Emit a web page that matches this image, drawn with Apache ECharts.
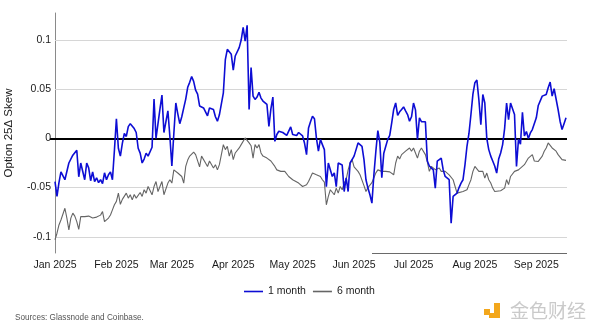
<!DOCTYPE html>
<html>
<head>
<meta charset="utf-8">
<script src="https://cdn.jsdelivr.net/npm/echarts@6/dist/echarts.min.js"></script>
<style>html,body{margin:0;padding:0;background:#fff}#chart{width:600px;height:333px}</style>
</head>
<body>
<div id="chart"></div>
<script>
// ---------------- data ----------------
const startDate = '2025-01-01';
const seriesNames = ['1 month', '6 month'];
const yAxisTitle = 'Option 25\u0394 Skew';
const sourceNote = 'Sources: Glassnode and Coinbase.';
const watermarkText = '金色财经';

const monthTickDates = ['2025-01-01','2025-02-01','2025-03-01','2025-04-01','2025-05-01','2025-06-01','2025-07-01','2025-08-01','2025-09-01'];
const monthTickLabels = ['Jan 2025','Feb 2025','Mar 2025','Apr 2025','May 2025','Jun 2025','Jul 2025','Aug 2025','Sep 2025'];
const yTickValues = [-0.1, -0.05, 0, 0.05, 0.1];
const yTickLabels = ['-0.1', '-0.05', '0', '0.05', '0.1'];

// 1 month skew, daily from 2025-01-01
const oneMonthValues = [
  -0.044,-0.059,-0.045,-0.034,-0.034,-0.042,-0.044,-0.025,-0.024,-0.017,
  -0.016,-0.012,-0.039,-0.025,-0.025,-0.042,-0.025,-0.030,-0.043,-0.034,
  -0.044,-0.040,-0.045,-0.042,-0.046,-0.035,-0.042,-0.037,-0.034,-0.042,
  -0.012,0.020,-0.010,-0.018,-0.005,0.005,0.002,0.012,0.015,0.013,
  0.010,0.006,-0.010,-0.015,-0.025,-0.021,-0.015,-0.018,-0.016,-0.009,
  0.040,0.000,0.015,0.030,0.044,0.006,0.008,0.028,0.002,-0.028,
  0.005,0.036,0.025,0.015,0.022,0.031,0.040,0.052,0.057,0.063,
  0.058,0.049,0.045,0.033,0.035,0.031,0.030,0.023,0.031,0.030,
  0.0294,0.022,0.0175,0.024,0.022,0.0464,0.080,0.0906,0.089,0.0855,
  0.0695,0.0838,0.082,0.0923,0.100,0.1128,0.099,0.115,0.0294,0.072,
  0.043,0.0396,0.042,0.047,0.041,0.038,0.036,0.0345,0.0123,0.030,
  0.042,-0.003,0.004,0.0073,0.009,0.006,0.004,0.003,0.0025,0.0117,
  0.004,0.004,0.003,0.006,0.0073,0.0025,-0.005,-0.0165,0.0107,0.017,
  0.0226,0.020,0.000,-0.013,-0.001,-0.0063,-0.0114,-0.049,-0.025,-0.025,
  -0.0387,-0.035,-0.049,-0.025,-0.025,-0.027,-0.054,-0.040,-0.054,-0.025,
  -0.023,-0.018,-0.0114,-0.0046,-0.006,-0.008,-0.0216,-0.042,-0.0505,-0.0573,
  -0.0658,-0.037,-0.013,0.008,-0.004,-0.040,-0.015,-0.008,-0.001,0.003,
  0.0158,0.0294,0.036,0.0233,0.027,0.0294,0.032,0.028,0.0243,0.0175,
  0.022,0.036,0.029,-0.001,0.021,0.017,0.019,0.017,-0.023,-0.028,
  -0.030,-0.032,-0.0505,-0.023,-0.025,-0.020,-0.032,-0.0387,-0.037,-0.042,
  -0.0862,-0.059,-0.059,-0.0556,-0.050,-0.0454,-0.042,-0.0267,-0.008,0.005,
  0.0243,0.045,0.0566,0.0593,0.0396,0.014,0.0447,0.036,0.000,-0.0114,
  -0.018,-0.023,-0.028,-0.0352,-0.021,-0.0148,-0.0063,0.010,0.036,0.019,
  0.036,0.035,0.0243,-0.0285,-0.001,-0.006,0.0266,0.0025,0.007,0.000,
  0.0056,0.009,0.009,0.021,0.0335,0.0335,0.043,0.0413,0.0447,0.0515,
  0.0573,0.043,0.0505,0.0498,0.0294,0.0175,0.009,0.015,0.021
];

// 6 month skew: day offsets from startDate and values read at those days
const sixMonthDays = [
  0,1,2,3,4,5,6,7,8,9,
  10,11,12,13,14,15,16,17,18,19,
  21,22,23,24,25,27,28,29,30,31,
  32,33,34,36,37,38,39,40,41,42,
  43,44,45,46,47,49,50,51,52,53,
  54,55,56,57,58,59,60,61,62,63,
  64,65,66,67,68,69,70,71,72,73,
  74,75,76,77,78,79,80,81,82,83,
  84,85,86,87,88,89,90,91,92,93,
  94,95,96,97,98,99,100,101,102,103,
  104,105,106,107,109,110,111,112,113,114,
  115,116,118,119,120,121,123,124,125,126,
  127,128,130,131,132,134,135,136,137,138,
  139,141,142,143,144,145,146,147,148,149,
  150,151,152,153,154,155,156,157,158,159,
  160,161,162,163,165,166,167,169,170,171,
  172,173,174,175,176,177,178,179,180,181,
  182,183,184,185,186,187,188,189,190,191,
  192,193,194,195,196,197,198,199,201,202,
  203,204,206,207,208,209,210,211,212,214,
  215,216,217,218,219,220,221,222,223,225,
  226,227,228,229,230,232,233,234,235,237,
  238,239,240,241,242,244,245,246,247,248,
  249,250,251,252,253,254,256,257,258
];
const sixMonthValues = [
  -0.103,-0.0964,-0.088,-0.083,-0.081,-0.071,-0.081,-0.093,-0.081,-0.076,
  -0.079,-0.0846,-0.0924,-0.0795,-0.081,-0.0795,-0.081,-0.079,-0.080,-0.081,
  -0.080,-0.0788,-0.078,-0.0744,-0.0846,-0.081,-0.0778,-0.0727,-0.0675,-0.064,
  -0.0556,-0.067,-0.062,-0.0556,-0.0607,-0.0573,-0.0625,-0.057,-0.0607,-0.059,
  -0.055,-0.059,-0.0522,-0.0556,-0.0489,-0.0573,-0.0489,-0.0438,-0.054,-0.0489,
  -0.0438,-0.0573,-0.056,-0.0454,-0.042,-0.0454,-0.032,-0.0335,-0.0352,-0.037,
  -0.0387,-0.0454,-0.0285,-0.022,-0.018,-0.0165,-0.014,-0.0165,-0.018,-0.029,
  -0.018,-0.020,-0.025,-0.0285,-0.023,-0.025,-0.030,-0.0267,-0.032,-0.0267,
  -0.025,-0.0063,-0.0114,-0.008,-0.018,-0.0114,-0.0216,-0.0148,-0.013,-0.0097,
  -0.0063,-0.0046,0.0005,-0.0012,-0.0046,-0.0075,-0.020,-0.0063,-0.0097,-0.0063,
  -0.0148,-0.018,-0.0165,-0.020,-0.023,-0.025,-0.0285,-0.032,-0.0305,-0.0335,
  -0.0352,-0.0335,-0.0387,-0.040,-0.042,-0.0438,-0.0454,-0.047,-0.0489,-0.0505,
  -0.0472,-0.0438,-0.0352,-0.0335,-0.037,-0.0387,-0.042,-0.0445,-0.0675,-0.059,
  -0.0522,-0.0573,-0.0505,-0.0556,-0.0489,-0.0522,-0.0454,-0.042,-0.032,-0.025,
  -0.0216,-0.029,-0.0305,-0.0335,-0.037,-0.0387,-0.048,-0.054,-0.050,-0.0489,
  -0.045,-0.040,-0.035,-0.032,-0.0335,-0.0352,-0.0335,-0.034,-0.0335,-0.037,
  -0.025,-0.018,-0.021,-0.0165,-0.018,-0.013,-0.0114,-0.0097,-0.013,-0.0097,
  -0.0148,-0.020,-0.013,-0.0097,-0.0114,-0.0165,-0.024,-0.0335,-0.0285,-0.0267,
  -0.0318,-0.0335,-0.030,-0.0335,-0.0352,-0.0335,-0.0318,-0.037,-0.042,-0.0489,
  -0.0556,-0.0573,-0.054,-0.0556,-0.0522,-0.047,-0.042,-0.0335,-0.0285,-0.0335,
  -0.0352,-0.0335,-0.0403,-0.0352,-0.042,-0.0454,-0.0505,-0.054,-0.0522,-0.0532,
  -0.0522,-0.0505,-0.042,-0.047,-0.0387,-0.0335,-0.0352,-0.032,-0.0335,-0.0267,
  -0.025,-0.020,-0.0216,-0.0165,-0.023,-0.0234,-0.0234,-0.018,-0.013,-0.0097,
  -0.0046,-0.0063,-0.0097,-0.0114,-0.013,-0.0165,-0.0216,-0.021,-0.0223
];

// ---------------- build ----------------
const DAY = 86400000;
const START = Date.parse(startDate);
const monthTickValues = monthTickDates.map(d => Date.parse(d));
const oneMonthData = oneMonthValues.map((v, i) => [START + i * DAY, v]);
const sixMonthData = sixMonthDays.map((d, i) => [START + d * DAY, sixMonthValues[i]]);

const FONT = "'Liberation Sans',Arial,Helvetica,sans-serif";
const BLUE = '#0d0dd4';
const GRAY = '#656565';

function nearestLabel(values, labels, val) {
  let best = 0, bd = Infinity;
  values.forEach((t, i) => { const d = Math.abs(t - val); if (d < bd) { bd = d; best = i; } });
  return labels[best];
}

const gridLines = yTickValues.map(v => ({
  yAxis: v,
  lineStyle: v === 0 ? { color: '#000', width: 2, type: 'solid' } : { color: '#d6d6d6', width: 1, type: 'solid' }
}));

const chart = echarts.init(document.getElementById('chart'), null, { renderer: 'canvas' });
chart.setOption({
  animation: false,
  backgroundColor: '#ffffff',
  grid: { left: 55, right: 33, top: 13, bottom: 80, containLabel: false, outerBoundsMode: 'none' },
  xAxis: {
    type: 'value',
    min: START,
    max: START + 258.5 * DAY,
    axisLine: { show: false },
    axisTick: { show: false },
    splitLine: { show: false },
    axisLabel: {
      customValues: monthTickValues,
      formatter: function (val) { return nearestLabel(monthTickValues, monthTickLabels, val); },
      margin: 7,
      fontSize: 10.5,
      fontFamily: FONT,
      color: '#1a1a1a',
      showMinLabel: true,
      showMaxLabel: true
    }
  },
  yAxis: {
    type: 'value',
    min: -0.1165,
    max: 0.1275,
    name: yAxisTitle,
    nameLocation: 'middle',
    nameGap: 40,
    nameTextStyle: { fontSize: 11.5, fontFamily: FONT, color: '#1a1a1a' },
    axisLine: { show: true, lineStyle: { color: '#8a8a8a', width: 1 } },
    axisTick: { show: true, customValues: [0], length: 5, lineStyle: { color: '#000', width: 2 } },
    splitLine: { show: false },
    axisLabel: {
      customValues: yTickValues,
      formatter: function (val) { return nearestLabel(yTickValues, yTickLabels, val); },
      margin: 4,
      fontSize: 10.5,
      fontFamily: FONT,
      color: '#1a1a1a'
    }
  },
  legend: {
    data: [
      { name: seriesNames[0], icon: 'rect', itemStyle: { color: BLUE } },
      { name: seriesNames[1], icon: 'rect', itemStyle: { color: GRAY } }
    ],
    left: 244,
    top: 286,
    padding: 0,
    itemWidth: 19,
    itemHeight: 1.6,
    itemGap: 7,
    textStyle: { fontSize: 10.5, fontFamily: FONT, color: '#1a1a1a' }
  },
  series: [
    {
      name: seriesNames[1],
      type: 'line',
      data: sixMonthData,
      symbol: 'none',
      showSymbol: false,
      z: 2,
      lineStyle: { color: GRAY, width: 1.1 },
      itemStyle: { color: GRAY },
      markLine: {
        silent: true,
        z: 1,
        symbol: ['none', 'none'],
        label: { show: false },
        animation: false,
        data: gridLines
      }
    },
    {
      name: seriesNames[0],
      type: 'line',
      data: oneMonthData,
      symbol: 'none',
      showSymbol: false,
      z: 3,
      lineStyle: { color: BLUE, width: 1.6 },
      itemStyle: { color: BLUE }
    }
  ],
  graphic: [
    { type: 'line', shape: { x1: 372, y1: 253.5, x2: 567, y2: 253.5 }, style: { stroke: '#6a6a6a', lineWidth: 1 }, silent: true },
    { type: 'text', left: 15, top: 314, style: { text: sourceNote, font: "8.2px " + FONT, fill: '#555555' } },
    { type: 'rect', shape: { x: 484, y: 309, width: 6, height: 6 }, style: { fill: '#f3a71c' } },
    { type: 'rect', shape: { x: 494, y: 303, width: 6, height: 15 }, style: { fill: '#f3a71c' } },
    { type: 'rect', shape: { x: 489, y: 313, width: 8, height: 5 }, style: { fill: '#f3a71c' } },
    { type: 'text', left: 510, top: 301, style: { text: watermarkText, font: "19px 'Noto Sans CJK SC',sans-serif", fill: '#cacaca' } }
  ]
});
</script>
</body>
</html>
